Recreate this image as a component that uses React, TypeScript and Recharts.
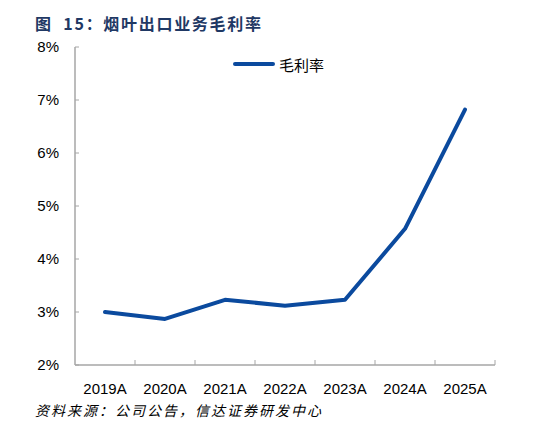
import { Line, LineChart, XAxis, YAxis } from 'recharts';

const years = ['2019A', '2020A', '2021A', '2022A', '2023A', '2024A', '2025A'];
const grossMargin = [0.03, 0.0287, 0.0323, 0.0312, 0.0323, 0.0457, 0.0682];
const yTicks = [0.02, 0.03, 0.04, 0.05, 0.06, 0.07, 0.08];

const LINE_COLOR = '#0B4A9E';
const AXIS_COLOR = '#a6a6a6';
const TICK_FONT = '"Liberation Sans", Arial, sans-serif';
const CJK_FONT = '"Noto Sans CJK SC", sans-serif';

const chartData = years.map((year, i) => ({ year, value: grossMargin[i] }));

const W = 560;
const H = 424;
const margin = { top: 47, right: 65, left: 0, bottom: 0 };
const Y_AXIS_W = 75;
const X_AXIS_H = 59;
const band = (W - margin.right - Y_AXIS_W) / years.length;

const YTick = (props: any) => {
  const { x, y, payload } = props;
  return (
    <g>
      <line x1={x + 16} x2={x + 20} y1={y} y2={y} stroke={AXIS_COLOR} strokeWidth={1} />
      <text
        x={x}
        y={y}
        dy="0.35em"
        textAnchor="end"
        fontFamily={TICK_FONT}
        fontSize={15}
        fill="#000"
      >
        {`${Math.round(payload.value * 100)}%`}
      </text>
    </g>
  );
};

const XTick = (props: any) => {
  const { x, y, payload } = props;
  return (
    <g>
      <line
        x1={x + band / 2}
        x2={x + band / 2}
        y1={y - 18}
        y2={y - 23}
        stroke={AXIS_COLOR}
        strokeWidth={1}
      />
      <text
        x={x}
        y={y}
        dy="0.71em"
        textAnchor="middle"
        fontFamily={TICK_FONT}
        fontSize={15}
        fill="#000"
      >
        {payload.value}
      </text>
    </g>
  );
};

export default function App() {
  return (
    <div
      style={{
        position: 'absolute',
        left: 0,
        top: 0,
        width: W,
        height: H,
        background: '#fff',
        overflow: 'hidden',
      }}
    >
      <div
        style={{
          position: 'absolute',
          left: 35,
          top: 11,
          fontFamily: CJK_FONT,
          fontWeight: 700,
          fontSize: 16,
          letterSpacing: 1.7,
          color: '#1F3864',
          whiteSpace: 'nowrap',
        }}
      >
        图&nbsp;&nbsp;15：烟叶出口业务毛利率
      </div>
      <LineChart width={W} height={H} data={chartData} margin={margin}>
        <XAxis
          dataKey="year"
          height={X_AXIS_H}
          padding={{ left: band / 2, right: band / 2 }}
          axisLine={{ stroke: AXIS_COLOR, strokeWidth: 1.5 }}
          tickLine={false}
          tickSize={0}
          tickMargin={18}
          tick={<XTick />}
          interval={0}
        />
        <YAxis
          width={Y_AXIS_W}
          domain={[0.02, 0.08]}
          ticks={yTicks}
          allowDataOverflow
          axisLine={{ stroke: AXIS_COLOR, strokeWidth: 1.5 }}
          tickLine={false}
          tickSize={0}
          tickMargin={16}
          tick={<YTick />}
          interval={0}
        />
        <Line
          type="linear"
          dataKey="value"
          name="毛利率"
          stroke={LINE_COLOR}
          strokeWidth={4}
          strokeLinecap="round"
          strokeLinejoin="round"
          dot={false}
          activeDot={false}
          isAnimationActive={false}
        />
      </LineChart>
      <div
        style={{
          position: 'absolute',
          left: 233,
          top: 54,
          display: 'flex',
          alignItems: 'center',
          height: 20,
        }}
      >
        <div style={{ width: 42, height: 4, borderRadius: 2, background: LINE_COLOR }} />
        <span style={{ marginLeft: 4, fontFamily: CJK_FONT, fontSize: 15, color: '#000' }}>
          毛利率
        </span>
      </div>
      <div
        style={{
          position: 'absolute',
          left: 35,
          top: 400,
          fontFamily: CJK_FONT,
          fontStyle: 'italic',
          fontSize: 14,
          letterSpacing: 2,
          color: '#000',
          whiteSpace: 'nowrap',
        }}
      >
        资料来源：公司公告，信达证券研发中心
      </div>
    </div>
  );
}
